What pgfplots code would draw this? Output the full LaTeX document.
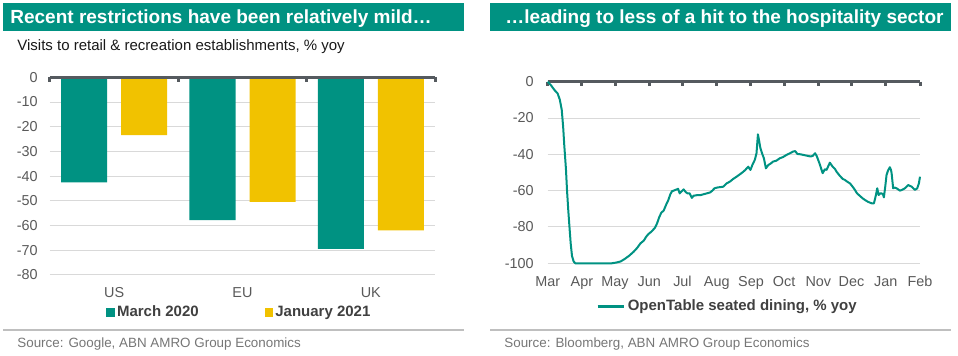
\documentclass[border=0pt]{standalone}
\usepackage{fontspec}
\setmainfont{Liberation Sans}
\usepackage{pgfplots}
\pgfplotsset{compat=1.18}
\definecolor{abngreen}{RGB}{0,146,130}
\definecolor{abnyellow}{RGB}{241,194,0}
\definecolor{axisdark}{RGB}{85,90,95}
\definecolor{gridgray}{RGB}{217,217,217}
\definecolor{ticktext}{RGB}{89,89,89}
\definecolor{legtext}{RGB}{64,64,64}
\definecolor{srcgray}{RGB}{118,118,118}
\definecolor{sepgray}{RGB}{191,191,191}
\begin{document}
\begin{tikzpicture}
\begin{scope}[x=0.5pt,y=-0.5pt]
\path[use as bounding box] (0,0) rectangle (958,356);
\fill[abngreen] (3,3) rectangle (464,31);
\fill[abngreen] (490,3) rectangle (951,31);
\node[anchor=base west, inner sep=0pt, text=white, font=\fontsize{9.5}{11}\selectfont\bfseries] at (10,24) {Recent restrictions have been relatively mild…};
\node[anchor=base west, inner sep=0pt, text=white, font=\fontsize{9.5}{11}\selectfont\bfseries] at (505,24) {…leading to less of a hit to the hospitality sector};
\node[anchor=base west, inner sep=0pt, font=\fontsize{7.5}{9}\selectfont, text=black!90] at (17,50.7) {Visits to retail \& recreation establishments, \% yoy};
\draw[sepgray, line width=1.2pt] (3,330) -- (464,330);
\draw[sepgray, line width=1.2pt] (490,330) -- (951,330);
\node[anchor=base west, inner sep=0pt, font=\fontsize{6.7}{8}\selectfont, text=srcgray] at (17,348) {Source: Google, ABN AMRO Group Economics};
\node[anchor=base west, inner sep=0pt, font=\fontsize{6.7}{8}\selectfont, text=srcgray] at (504,348) {Source: Bloomberg, ABN AMRO Group Economics};
\end{scope}

\begin{axis}[
  at={(25pt,-137.5pt)}, anchor=south west,
  scale only axis, width=192.5pt, height=98.85pt,
  xmin=-0.5, xmax=2.5, ymin=-80, ymax=0,
  ybar=7pt, bar width=23pt,
  xtick={0,1,2}, xticklabels={US,EU,UK},
  ytick={-80,-70,-60,-50,-40,-30,-20,-10,0},
  yticklabels={-80,-70,-60,-50,-40,-30,-20,-10,0},
  ymajorgrids, grid style={gridgray, line width=0.5pt},
  axis line style={draw=none}, major tick length=0pt, tick style={draw=none},
  xticklabel style={anchor=base, yshift=-11.35pt, inner sep=0pt, font=\fontsize{7.2}{8}\selectfont, text=ticktext},
  yticklabel style={anchor=east, xshift=-6pt, inner sep=0pt, font=\fontsize{7.2}{8}\selectfont, text=ticktext},
  clip=false,
  legend columns=2,
  legend style={at={(0.130,-0.19)}, anchor=west, draw=none, fill=none,
    font=\fontsize{7.5}{9}\selectfont\bfseries, text=legtext,
    nodes={inner sep=1pt},
    /tikz/every even column/.append style={column sep=32pt}},
  legend image code/.code={\fill[#1] (0pt,-2.1pt) rectangle (4.3pt,2.1pt);},
]
\addplot[fill=abngreen, draw=none] coordinates {(0,-42.5) (1,-57.8) (2,-69.4)};
\addplot[fill=abnyellow, draw=none] coordinates {(0,-23.4) (1,-50.4) (2,-61.9)};
\legend{March 2020, January 2021}
\draw[axisdark, line width=1.5pt] (axis cs:-0.5,0) -- (axis cs:2.5,0);
\pgfplotsinvokeforeach{-0.5,0.5,1.5,2.5}{\draw[axisdark, line width=1.5pt] (axis cs:#1,0) -- ([yshift=-2.2pt]axis cs:#1,0);}
\end{axis}

\begin{axis}[
  at={(273.85pt,-131.65pt)}, anchor=south west,
  scale only axis, width=186.15pt, height=90.8pt,
  xmin=0, xmax=337, ymin=-100, ymax=0,
  xtick={0,31,61,92,122,153,184,214,245,275,306,337},
  xticklabels={Mar,Apr,May,Jun,Jul,Aug,Sep,Oct,Nov,Dec,Jan,Feb},
  ytick={-100,-80,-60,-40,-20,0},
  yticklabels={-100,-80,-60,-40,-20,0},
  ymajorgrids, grid style={gridgray, line width=0.5pt},
  axis line style={draw=none}, major tick length=0pt, tick style={draw=none},
  xticklabel style={anchor=base, yshift=-11.7pt, inner sep=0pt, font=\fontsize{7.2}{8}\selectfont, text=ticktext},
  yticklabel style={anchor=east, xshift=-6.85pt, inner sep=0pt, font=\fontsize{7.2}{8}\selectfont, text=ticktext},
  clip=false,
  legend style={at={(0.113,-0.239)}, anchor=west, draw=none, fill=none,
    font=\fontsize{7.5}{9}\selectfont\bfseries, text=legtext,
    nodes={inner sep=1pt}},
  legend image code/.code={\draw[#1, line width=1.5pt] (0pt,0pt) -- (13.3pt,0pt);},
]
\draw[axisdark, line width=1.5pt] (axis cs:0,0) -- (axis cs:337,0);
\pgfplotsinvokeforeach{0,31,61,92,122,153,184,214,245,275,306,337}{\draw[axisdark, line width=1.5pt] (axis cs:#1,0) -- ([yshift=-2.2pt]axis cs:#1,0);}
\addplot[abngreen, line width=1pt, line join=round] coordinates {
(0,0) (3,-2) (6,-4.5) (9,-6.5) (11,-10) (12.7,-15.5) (14,-25) (15,-35) (16.5,-48)
(17.5,-60) (18.6,-70.6) (19.7,-80) (20.8,-89) (22,-96) (23.5,-99) (25,-100)
(58,-100) (62,-99.6) (66,-99) (70,-97.5) (74,-95.7) (78,-93.5) (81,-91.5) (84,-89)
(87,-87.5) (89,-85.5) (91,-84) (94,-82.5) (97,-80.5) (99,-78) (101,-74.5) (103,-72)
(105,-71) (107,-68) (109,-65.5) (111,-62) (112.5,-60.3) (114,-60) (116,-59.5) (118,-59)
(119.5,-61.5) (121,-60.5) (123,-59.3) (125,-60.8) (126.5,-61.5) (128.5,-61.5) (130.5,-64)
(132,-62.8) (135,-62.5) (138,-62.5) (141,-62) (144,-61.5) (147,-61) (149,-60) (151,-58.7)
(154,-58.2) (157,-58) (159,-57.8) (162,-56) (165,-55) (168,-53.5) (171,-52.3) (174,-51)
(177,-49.6) (179,-48.5) (181.5,-46.8) (183.5,-48.6) (185.5,-45.5) (187.5,-43) (189,-39.4)
(190.3,-29) (191.5,-33) (192.5,-36.5) (194,-39.4) (195.7,-42.2) (197.5,-47.7) (199.7,-45.9)
(202,-45) (204,-44) (207,-43.5) (210,-42.2) (213,-41.5) (216,-40.4) (219,-39.5) (222,-38.5)
(224,-38.2) (226,-39.8) (229,-40) (232,-40.4) (235,-40.8) (238,-41.2) (240,-40.8) (242,-39.4)
(243.5,-40.9) (246,-45) (248.9,-50.4) (250.9,-48.2) (252.4,-48.6) (255.4,-44.6) (257.9,-46.8)
(260,-48) (261.5,-49.6) (264.5,-51.9) (267,-53.5) (269,-54.1) (271,-55) (273.6,-56)
(276,-57.8) (278.1,-59.6) (280,-61.5) (282.6,-62.9) (285,-64.2) (287.1,-65.1) (289.5,-66)
(291.6,-66.6) (293.5,-67) (295.3,-67) (296.3,-64.5) (297.1,-62.4) (298.3,-58.7) (299.5,-62.4)
(301,-61.5) (302.2,-61.5) (303.5,-62) (304.3,-63.7) (305.5,-58) (306.7,-51.4) (308,-49)
(309.7,-47.1) (310.7,-48.5) (311.3,-50.4) (312.7,-58.7) (314,-58.3) (315.8,-58.7) (318.8,-60)
(321,-59.5) (323.3,-58.7) (326.3,-56.9) (329.4,-57.8) (331,-58.7) (332.4,-59.6) (334.5,-58.7)
(336,-56) (337,-52.3)
};
\addlegendentry{OpenTable seated dining, \% yoy}
\end{axis}
\end{tikzpicture}
\end{document}
